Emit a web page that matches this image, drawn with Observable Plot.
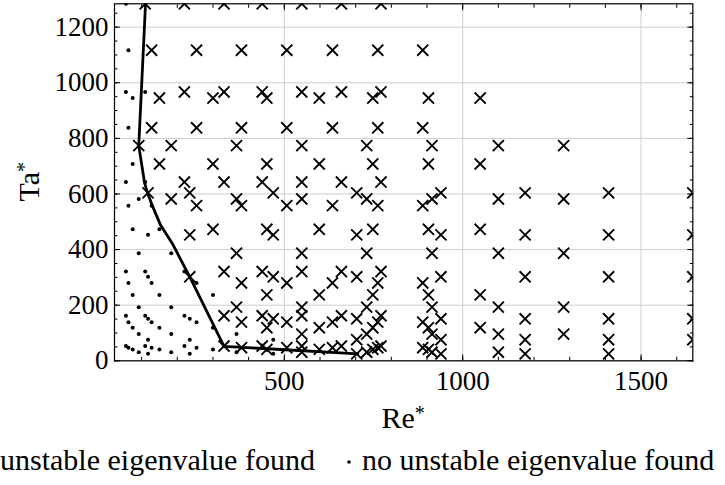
<!DOCTYPE html>
<html><head><meta charset="utf-8">
<script src="https://cdn.jsdelivr.net/npm/d3@7"></script>
<script src="https://cdn.jsdelivr.net/npm/@observablehq/plot@0.6"></script>
<style>
html,body{margin:0;padding:0;background:#fff;}
#chart{width:725px;}
.legend{width:725px;height:45px;overflow:hidden;white-space:nowrap;font-family:"Liberation Serif","Times New Roman",serif;font-size:30px;line-height:40px;color:#000;}
.legend .inner{margin-left:-24px;display:flex;align-items:center;}
</style></head><body><div id="chart"></div><div class="legend"><div class="inner" id="legend"></div></div>
<script>
// ---- data ----
const unstableRe = [
  110,
  220, 220, 220,
  331, 331, 331, 331, 331, 331,
  438, 438, 438, 438, 438, 438,
  549, 549, 549, 549, 549, 549,
  660, 660, 660, 660, 660, 660,
  771, 771, 771, 771, 771, 771,
  92,
  183, 183,
  366, 366, 366, 366,
  549, 549, 549, 549, 549, 549,
  731, 731, 731, 731, 731, 731,
  914, 914, 914, 914, 914, 914,
  1100, 1100, 1100, 1100, 1100, 1100,
  1283, 1283, 1283, 1283, 1283,
  128, 128,
  254, 254, 254,
  380, 380, 380, 380, 380, 380,
  507, 507, 507, 507, 507, 507,
  635, 635, 635, 635, 635, 635,
  762, 762, 762, 762, 762, 762,
  888, 888, 888, 888, 888, 888,
  150, 150,
  300, 300, 300,
  451, 451, 451, 451, 451, 451,
  598, 598, 598, 598, 598, 598,
  748, 748, 748, 748, 748, 748,
  904, 904, 904, 904, 904, 904,
  1049, 1049, 1049, 1049, 1049,
  118,
  235, 235, 235,
  469, 469, 469, 469,
  703, 703, 703, 703, 703, 703,
  939, 939, 939, 939, 939, 939,
  1175, 1175, 1175, 1175, 1175, 1175,
  1409, 1409, 1409, 1409, 1409, 1409,
  1645, 1645, 1645, 1645, 1645
];
const unstableTa = [
  1284,
  1284, 967, 643,
  1284, 967, 643, 321, 162, 53,
  1284, 967, 643, 321, 162, 53,
  1284, 967, 643, 321, 162, 53,
  1284, 967, 643, 321, 162, 53,
  1284, 967, 643, 321, 162, 53,
  774,
  774, 582,
  774, 582, 387, 193,
  774, 582, 387, 193, 96, 31,
  774, 582, 387, 193, 96, 31,
  774, 582, 387, 193, 96, 31,
  774, 582, 387, 193, 96, 31,
  774, 582, 387, 193, 96,
  1117, 838,
  1117, 838, 558,
  1117, 838, 558, 280, 139, 47,
  1117, 838, 558, 280, 139, 47,
  1117, 838, 558, 280, 139, 47,
  1117, 838, 558, 280, 139, 47,
  1117, 838, 558, 280, 139, 47,
  945, 708,
  945, 708, 473,
  945, 708, 473, 237, 119, 41,
  945, 708, 473, 237, 119, 41,
  945, 708, 473, 237, 119, 41,
  945, 708, 473, 237, 119, 41,
  945, 708, 473, 237, 119,
  604,
  604, 453, 302,
  604, 453, 302, 151,
  604, 453, 302, 151, 76, 25,
  604, 453, 302, 151, 76, 25,
  604, 453, 302, 151, 76, 25,
  604, 453, 302, 151, 76, 25,
  604, 453, 302, 151, 76
];
const stableRe = [
  56, 56, 56, 56, 56, 56,
  110, 110, 110, 110, 110,
  220, 220, 220,
  92, 92, 92, 92, 92,
  183, 183, 183, 183,
  366, 366,
  63, 63, 63, 63, 63, 63,
  128, 128, 128, 128,
  254, 254, 254,
  75, 75, 75, 75, 75, 75,
  150, 150, 150, 150,
  300, 300, 300,
  118, 118, 118, 118, 118,
  235, 235, 235,
  469, 469
];
const stableTa = [
  1284, 967, 643, 321, 162, 53,
  967, 643, 321, 162, 53,
  321, 162, 53,
  582, 387, 193, 96, 31,
  387, 193, 96, 31,
  96, 31,
  1117, 838, 558, 280, 139, 47,
  558, 280, 139, 47,
  280, 139, 47,
  945, 708, 473, 237, 119, 41,
  473, 237, 119, 41,
  237, 119, 41,
  453, 302, 151, 76, 25,
  151, 76, 25,
  76, 25
];
const boundaryRe = [111, 92, 100, 108, 116, 130, 153, 186, 235, 331, 706];
const boundaryTa = [1284, 774, 708, 642, 606, 558, 488, 422, 302, 52, 25];

const xDomain = [24, 1645];
const yDomain = [0, 1284];
const xMajorTicks = [500, 1000, 1500];
const xMinorTicks = [100, 200, 300, 400, 500, 600, 700, 800, 900, 1000, 1100, 1200, 1300, 1400, 1500, 1600];
const yMajorTicks = [0, 200, 400, 600, 800, 1000, 1200];
const yMinorTicks = [0, 50, 100, 150, 200, 250, 300, 350, 400, 450, 500, 550, 600, 650, 700, 750, 800, 850, 900, 950, 1000, 1050, 1100, 1150, 1200, 1250];
const xLabel = "Re", yLabel = "Ta", labelSup = "*";
const legendLabels = ["unstable eigenvalue found", "no unstable eigenvalue found"];

// ---- build ----
const unstable = unstableRe.map((re, i) => ({re, ta: unstableTa[i]}));
const stable = stableRe.map((re, i) => ({re, ta: stableTa[i]}));
const boundary = boundaryRe.map((re, i) => ({re, ta: boundaryTa[i]}));
const fontFamily = '"Liberation Serif", "Times New Roman", serif';
const tickFont = 27;

const chart = Plot.plot({
  width: 725, height: 440,
  marginLeft: 114, marginRight: 32.7, marginTop: 3.3, marginBottom: 79.7,
  style: {fontFamily, fontSize: tickFont + "px", color: "black", background: "white"},
  x: {domain: xDomain, label: null},
  y: {domain: yDomain, label: null},
  marks: [
    Plot.gridX(xMajorTicks, {stroke: "#cccccc", strokeOpacity: 1, strokeWidth: 1}),
    Plot.gridY(yMajorTicks, {stroke: "#cccccc", strokeOpacity: 1, strokeWidth: 1}),
    Plot.dot(stable, {x: "re", y: "ta", r: 2, fill: "black", clip: true}),
    Plot.dot(unstable, {x: "re", y: "ta", symbol: "times", r: 5.1, stroke: "black", strokeWidth: 1.9, clip: true}),
    Plot.line(boundary, {x: "re", y: "ta", stroke: "black", strokeWidth: 2.8, clip: true}),
    Plot.frame({stroke: "black", strokeWidth: 1.2}),
    Plot.axisX(xMajorTicks, {anchor: "bottom", tickSize: -6, tickPadding: 16, tickFormat: "d", fontSize: tickFont, label: null}),
    Plot.axisX(xMinorTicks, {anchor: "bottom", tickSize: -3.5, fill: "none", label: null}),
    Plot.axisX(xMajorTicks, {anchor: "top", tickSize: -6, fill: "none", label: null}),
    Plot.axisX(xMinorTicks, {anchor: "top", tickSize: -3.5, fill: "none", label: null}),
    Plot.axisY(yMajorTicks, {anchor: "left", tickSize: -6, tickPadding: 12, tickFormat: "d", fontSize: tickFont, label: null}),
    Plot.axisY(yMinorTicks, {anchor: "left", tickSize: -3.5, fill: "none", label: null}),
    Plot.axisY(yMajorTicks, {anchor: "right", tickSize: -6, fill: "none", label: null}),
    Plot.axisY(yMinorTicks, {anchor: "right", tickSize: -3.5, fill: "none", label: null})
  ]
});
document.getElementById("chart").appendChild(chart);

// axis titles with superscript asterisk
const svg = d3.select(chart);
const xs = chart.scale("x"), ys = chart.scale("y");
const cx = (xs.range[0] + xs.range[1]) / 2;
const cy = (ys.range[0] + ys.range[1]) / 2;
const xl = svg.append("text").attr("x", cx).attr("y", ys.range[0] + 68)
  .attr("text-anchor", "middle").attr("font-size", 30).attr("fill", "black").attr("font-family", fontFamily);
xl.append("tspan").text(xLabel);
xl.append("tspan").attr("font-size", 20).attr("dy", -8).text(labelSup);
const yl = svg.append("text").attr("transform", `translate(39,${cy}) rotate(-90)`)
  .attr("text-anchor", "middle").attr("font-size", 30).attr("fill", "black").attr("font-family", fontFamily);
yl.append("tspan").text(yLabel);
yl.append("tspan").attr("font-size", 20).attr("dy", -8).text(labelSup);

// legend
const lg = d3.select("#legend");
const cross = lg.append("svg").attr("width", 14).attr("height", 14);
cross.append("path").attr("d", "M2,2L12,12M12,2L2,12").attr("stroke", "black").attr("stroke-width", 1.7);
lg.append("span").style("margin-left", "10px").text(legendLabels[0]);
const dotSvg = lg.append("svg").attr("width", 8).attr("height", 14).style("margin-left", "30px");
dotSvg.append("circle").attr("cx", 4).attr("cy", 9).attr("r", 1.8).attr("fill", "black");
lg.append("span").style("margin-left", "9px").text(legendLabels[1]);
</script></body></html>
